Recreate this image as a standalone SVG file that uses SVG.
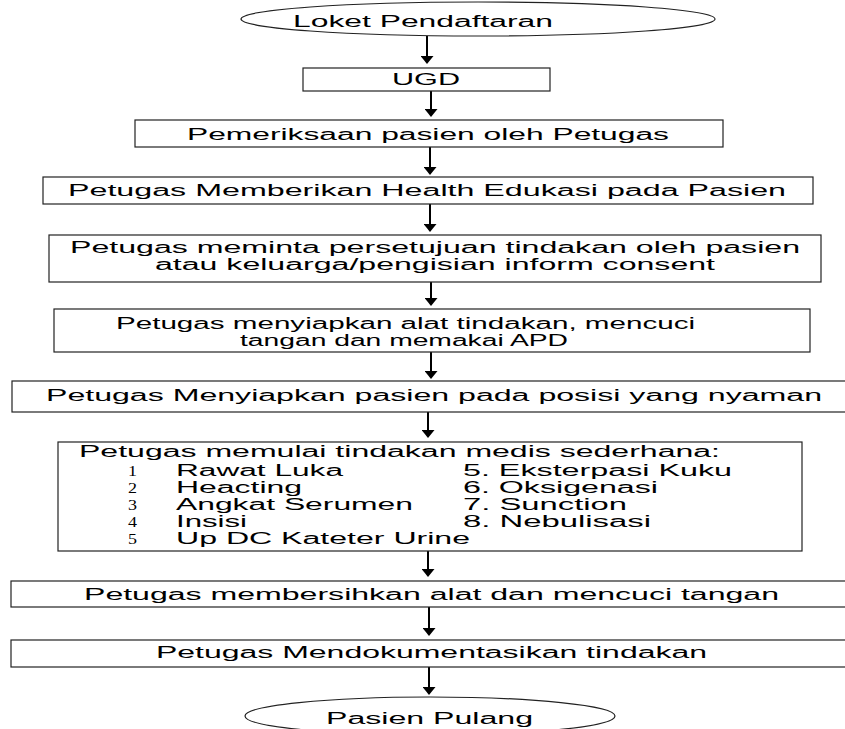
<svg xmlns="http://www.w3.org/2000/svg" width="845" height="729" viewBox="0 0 845 729">
  <style>
    .box { fill: #fff; stroke: #222; stroke-width: 1.2; }
    .t { font-family: "Liberation Sans", Arial, sans-serif; font-size: 16px; fill: #000; }
    .n { font-family: "Liberation Serif", "Times New Roman", serif; font-size: 14.5px; fill: #000; }
    .conn path { fill: none; stroke: #000; stroke-width: 2; }
  </style>
  <defs>
    <marker id="arrow" markerUnits="userSpaceOnUse" markerWidth="8" markerHeight="13" viewBox="0 0 8 13" refX="2" refY="6.5" orient="auto">
      <path d="M0,0 L8,6.5 L0,13 z" fill="#000"/>
    </marker>
  </defs>
  <rect width="845" height="729" fill="#fff"/>

  <g class="conn" id="connectors">
    <path d="M427 36V58" marker-end="url(#arrow)"/>
    <path d="M431 91V111" marker-end="url(#arrow)"/>
    <path d="M430 147V169" marker-end="url(#arrow)"/>
    <path d="M430 204V226" marker-end="url(#arrow)"/>
    <path d="M431 282V300" marker-end="url(#arrow)"/>
    <path d="M431 352V373" marker-end="url(#arrow)"/>
    <path d="M428 412V432" marker-end="url(#arrow)"/>
    <path d="M428 551V571" marker-end="url(#arrow)"/>
    <path d="M429 607V630" marker-end="url(#arrow)"/>
    <path d="M429 667V689" marker-end="url(#arrow)"/>
  </g>

  <g id="start">
    <ellipse class="box" cx="478" cy="19" rx="237" ry="17"/>
    <text class="t" x="293" y="27" textLength="260" lengthAdjust="spacingAndGlyphs">Loket Pendaftaran</text>
  </g>

  <g id="ugd">
    <rect class="box" x="303" y="68" width="247" height="23"/>
    <text class="t" x="392" y="85" textLength="68" lengthAdjust="spacingAndGlyphs">UGD</text>
  </g>

  <g id="pemeriksaan">
    <rect class="box" x="135" y="120" width="588" height="27"/>
    <text class="t" x="187" y="140" textLength="482" lengthAdjust="spacingAndGlyphs">Pemeriksaan pasien oleh Petugas</text>
  </g>

  <g id="edukasi">
    <rect class="box" x="43" y="177" width="770" height="27"/>
    <text class="t" x="68" y="196" textLength="718" lengthAdjust="spacingAndGlyphs">Petugas Memberikan Health Edukasi pada Pasien</text>
  </g>

  <g id="persetujuan">
    <rect class="box" x="49" y="235" width="772" height="47"/>
    <text class="t" x="70" y="253" textLength="730" lengthAdjust="spacingAndGlyphs">Petugas meminta persetujuan tindakan oleh pasien</text>
    <text class="t" x="155" y="270" textLength="560" lengthAdjust="spacingAndGlyphs">atau keluarga/pengisian inform consent</text>
  </g>

  <g id="persiapan-alat">
    <rect class="box" x="54" y="309" width="756" height="43"/>
    <text class="t" x="116" y="329" textLength="579" lengthAdjust="spacingAndGlyphs">Petugas menyiapkan alat tindakan, mencuci</text>
    <text class="t" x="240" y="346" textLength="328" lengthAdjust="spacingAndGlyphs">tangan dan memakai APD</text>
  </g>

  <g id="posisi">
    <rect class="box" x="12" y="381" width="840" height="31"/>
    <text class="t" x="46" y="401" textLength="776" lengthAdjust="spacingAndGlyphs">Petugas Menyiapkan pasien pada posisi yang nyaman</text>
  </g>

  <g id="tindakan-medis">
    <rect class="box" x="58" y="442" width="744" height="109"/>
    <text class="t" x="79" y="457" textLength="641" lengthAdjust="spacingAndGlyphs">Petugas memulai tindakan medis sederhana:</text>
    <text class="n" x="128" y="476" textLength="9" lengthAdjust="spacingAndGlyphs">1</text>
    <text class="n" x="128" y="493" textLength="9" lengthAdjust="spacingAndGlyphs">2</text>
    <text class="n" x="128" y="510" textLength="9" lengthAdjust="spacingAndGlyphs">3</text>
    <text class="n" x="128" y="527" textLength="9" lengthAdjust="spacingAndGlyphs">4</text>
    <text class="n" x="128" y="544" textLength="9" lengthAdjust="spacingAndGlyphs">5</text>
    <text class="t" x="176" y="476" textLength="167" lengthAdjust="spacingAndGlyphs">Rawat Luka</text>
    <text class="t" x="176" y="493" textLength="126" lengthAdjust="spacingAndGlyphs">Heacting</text>
    <text class="t" x="176" y="510" textLength="237" lengthAdjust="spacingAndGlyphs">Angkat Serumen</text>
    <text class="t" x="176" y="527" textLength="71" lengthAdjust="spacingAndGlyphs">Insisi</text>
    <text class="t" x="176" y="544" textLength="294" lengthAdjust="spacingAndGlyphs">Up DC Kateter Urine</text>
    <text class="t" x="463" y="476" textLength="269" lengthAdjust="spacingAndGlyphs">5. Eksterpasi Kuku</text>
    <text class="t" x="463" y="493" textLength="195" lengthAdjust="spacingAndGlyphs">6. Oksigenasi</text>
    <text class="t" x="463" y="510" textLength="164" lengthAdjust="spacingAndGlyphs">7. Sunction</text>
    <text class="t" x="463" y="527" textLength="188" lengthAdjust="spacingAndGlyphs">8. Nebulisasi</text>
  </g>

  <g id="membersihkan">
    <rect class="box" x="11" y="581" width="840" height="26"/>
    <text class="t" x="84" y="600" textLength="695" lengthAdjust="spacingAndGlyphs">Petugas membersihkan alat dan mencuci tangan</text>
  </g>

  <g id="dokumentasi">
    <rect class="box" x="11" y="640" width="840" height="27"/>
    <text class="t" x="156" y="658" textLength="551" lengthAdjust="spacingAndGlyphs">Petugas Mendokumentasikan tindakan</text>
  </g>

  <g id="end">
    <ellipse class="box" cx="430" cy="716" rx="185" ry="19"/>
    <text class="t" x="326" y="724" textLength="207" lengthAdjust="spacingAndGlyphs">Pasien Pulang</text>
  </g>
</svg>
